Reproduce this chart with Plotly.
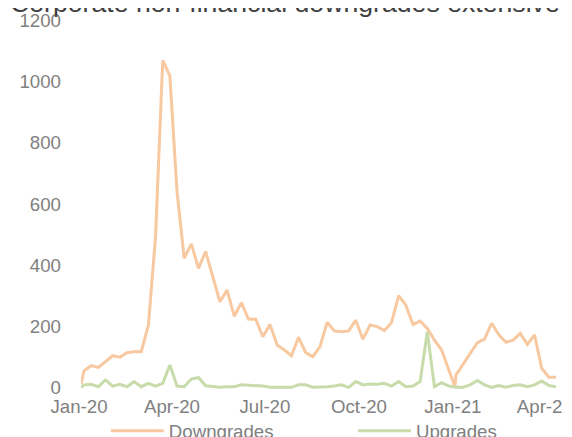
import pandas as pd
import plotly.graph_objects as go

# ---- data ----
first_date = ["2019-12-31"]
fridays_2020 = [d.strftime("%Y-%m-%d") for d in pd.date_range("2020-01-03", "2020-12-25", freq="7D")]
yearend_date = ["2020-12-31"]
fridays_2021 = [d.strftime("%Y-%m-%d") for d in pd.date_range("2021-01-01", "2021-04-09", freq="7D")]
dates = first_date + fridays_2020 + yearend_date + fridays_2021

downgrades = [13,
              56, 73, 67, 86, 105, 100, 115, 118, 118, 205,
              495, 1068, 1018, 640, 423, 470, 390, 445, 362, 281,
              319, 234, 278, 224, 225, 167, 207, 140, 124, 105,
              165, 115, 102, 135, 214, 186, 183, 186, 221, 159,
              205, 200, 187, 213, 301, 270, 207, 218, 194, 156,
              124, 59,
              4,
              42, 78, 112, 148, 159, 211, 173, 149, 156, 178,
              142, 173, 64, 35, 35]

upgrades = [2,
            10, 12, 4, 26, 6, 12, 4, 21, 4, 15,
            6, 15, 75, 6, 4, 29, 34, 7, 4, 2,
            4, 4, 10, 9, 6, 6, 2, 2, 2, 2,
            10, 10, 2, 2, 4, 6, 10, 2, 21, 10,
            13, 12, 15, 6, 21, 4, 6, 21, 183, 4,
            17, 6,
            2,
            2, 2, 10, 24, 10, 2, 8, 2, 8, 10,
            4, 10, 23, 8, 4]

tick_dates = ["2020-01-01", "2020-04-01", "2020-07-01", "2020-10-01", "2021-01-01", "2021-04-01"]
tick_labels = ["Jan-20", "Apr-20", "Jul-20", "Oct-20", "Jan-21", "Apr-21"]
y_ticks = [0, 200, 400, 600, 800, 1000, 1200]

title_text = "Corporate non-financial downgrades extensive"

ORANGE = "#F8C9A0"
GREEN = "#C8DCAB"
GREY = "#808080"
FONT = "Liberation Sans, Arial, sans-serif"
FS = 18.67

fig = go.Figure()
fig.add_trace(go.Scatter(x=dates, y=downgrades, mode="lines", name="Downgrades",
                         line=dict(color=ORANGE, width=3), legend="legend"))
fig.add_trace(go.Scatter(x=dates, y=upgrades, mode="lines", name="Upgrades",
                         line=dict(color=GREEN, width=3), legend="legend2"))

legend_common = dict(orientation="h", xanchor="left", xref="container",
                     y=-0.108, yanchor="middle", yref="paper",
                     font=dict(family=FONT, size=FS, color=GREY),
                     itemwidth=53, bgcolor="rgba(0,0,0,0)")

fig.update_layout(
    width=572, height=437,
    margin=dict(l=73, r=24, t=12, b=54, autoexpand=False),
    paper_bgcolor="white", plot_bgcolor="white",
    font=dict(family=FONT, size=FS, color=GREY),
    showlegend=True,
    legend=dict(x=0.171, **legend_common),
    legend2=dict(x=0.603, **legend_common),
    xaxis=dict(type="date", range=["2019-12-31", "2021-04-09"],
               tickmode="array", tickvals=tick_dates, ticktext=tick_labels,
               showgrid=False, zeroline=False, showline=False, ticks="",
               ticklabeloverflow="allow", ticklabelstandoff=2, ticklabelshift=-3,
               automargin=False),
    yaxis=dict(range=[-10, 1200], tickmode="array", tickvals=y_ticks,
               showgrid=False, zeroline=False, showline=False, ticks="",
               ticklabelstandoff=19, automargin=False),
    annotations=[dict(text=title_text, xref="paper", yref="paper",
                      x=0.4295, xanchor="center", y=1.0, yanchor="bottom",
                      showarrow=False,
                      font=dict(family=FONT, size=26.67, color="#404040"))],
)

fig.write_html("out.html")
